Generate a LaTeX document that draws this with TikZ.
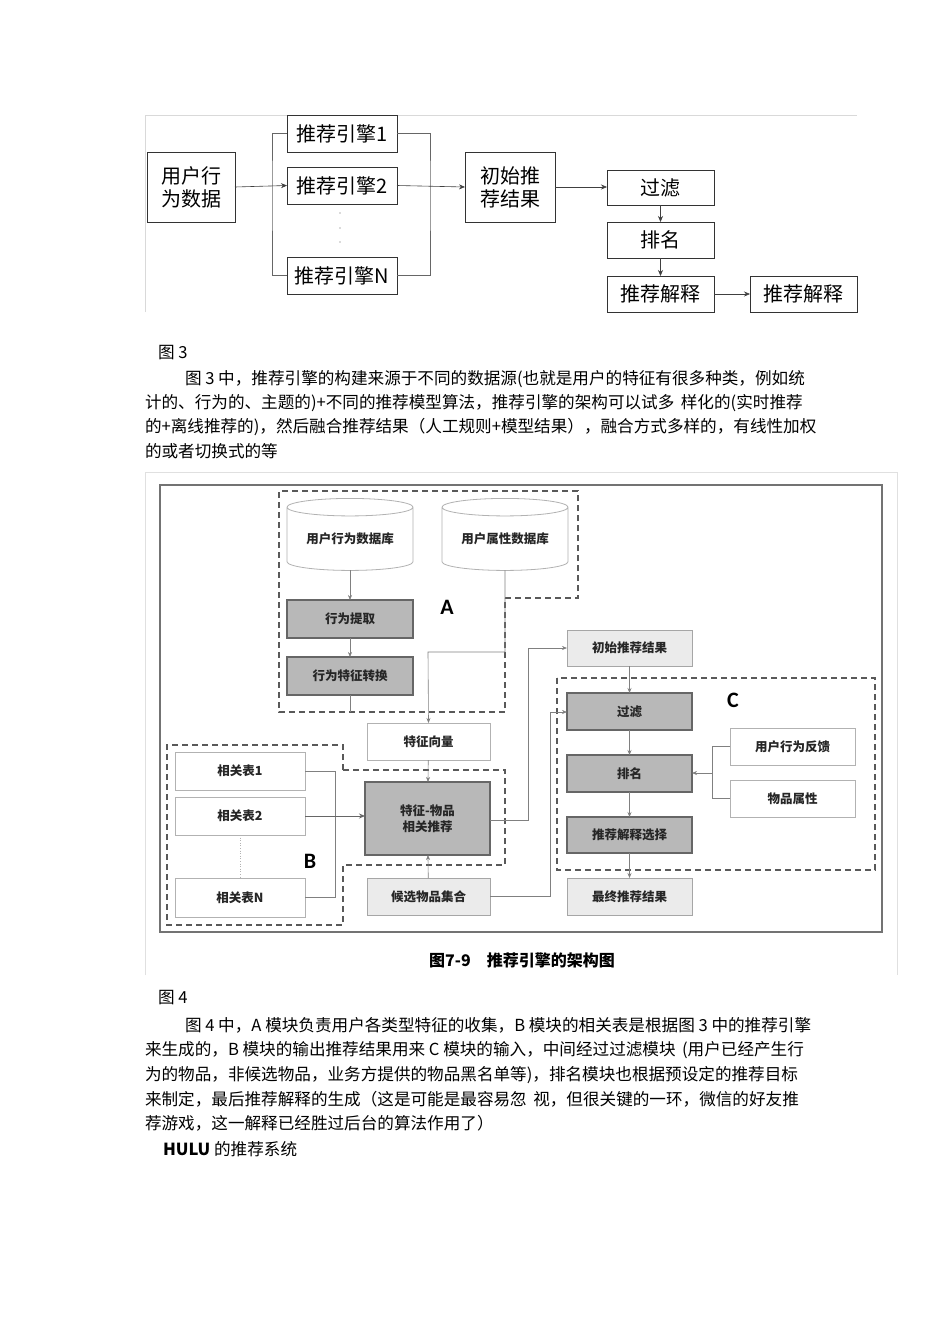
\documentclass[tikz,border=0pt]{standalone}
\usepackage{fontspec}
\setmainfont{Noto Sans CJK SC}
\newfontfamily\latinf{Carlito}
\usetikzlibrary{shapes.geometric,arrows.meta}
\newcommand\bx[7]{\node[#6,minimum width=#4-#2,minimum height=#5-#3] (#1) at ({(#2+#4)/2},{(#3+#5)/2}) {#7};}
\begin{document}
\begin{tikzpicture}[x=1pt,y=-1pt,inner sep=0,outer sep=0,
  tbox/.style={draw=black!80,line width=0.8pt,fill=white,font=\fontsize{20}{23}\selectfont,align=center},
  fa/.style={-{Stealth[length=6pt,width=5pt]},line width=0.6pt,black!75},
  fl/.style={line width=0.6pt,black!60},
  dk/.style={draw=black!60,line width=1.2pt,fill=black!28,font=\fontsize{12.5}{16}\selectfont\bfseries,align=center,text=black!85},
  lt/.style={draw=black!35,line width=0.8pt,fill=black!8,font=\fontsize{12.5}{16}\selectfont\bfseries,align=center,text=black!85},
  wh/.style={draw=black!30,line width=0.7pt,fill=white,font=\fontsize{12.5}{16}\selectfont\bfseries,align=center,text=black!85},
  ga/.style={-{Stealth[length=5pt,width=4pt]},line width=0.6pt,black!50},
  gl/.style={line width=0.6pt,black!50},
  dsh/.style={dashed,dash pattern=on 6pt off 4pt,line width=1.4pt,black!65},
  para/.style={anchor=west,font=\fontsize{16.6}{19}\selectfont}]
\useasboundingbox (0,0) rectangle (950,1344);
\fill[white] (0,0) rectangle (950,1344);
% ---------- Figure 3 ----------
\draw[black!15,line width=0.6pt] (145,312) -- (145,115) -- (857,115);
\bx{ud}{147}{152}{235}{222}{tbox}{用户行\\为数据}
\bx{e1}{287}{115}{397}{152}{tbox}{推荐引擎1}
\bx{e2}{287}{167}{397}{204}{tbox}{推荐引擎2}
\bx{en}{287}{257}{397}{294}{tbox}{推荐引擎N}
\bx{init}{465}{152}{555}{222}{tbox}{初始推\\荐结果}
\bx{flt}{607}{170}{714}{205}{tbox}{过滤}
\bx{rk}{607}{222}{714}{258}{tbox}{排名}
\bx{ex}{607}{276}{714}{312}{tbox}{推荐解释}
\bx{ex2}{750}{276}{857}{312}{tbox}{推荐解释}
\foreach \yy in {213,228,242} \fill[black!60] (340,\yy) circle (0.7);
\draw[fl] (e1.west) -| (272,187) |- (en.west);
\draw[fl] (e1.east) -| (430,187) |- (en.east);
\draw[fa] (ud.east) -- (e2.west);
\draw[fa] (e2.east) -- (init.west);
\draw[fa] (init.east) -- (init.east -| flt.west);
\draw[fa] (flt) -- (rk);
\draw[fa] (rk) -- (ex);
\draw[fa] (ex) -- (ex2);
% ---------- text 1 ----------
\node[para] (t0) at (158,353) {图 3};
\node[para] (t1) at (185,379) {图 3 中，推荐引擎的构建来源于不同的数据源(也就是用户的特征有很多种类，例如统};
\node[para] (t2) at (145,403) {计的、行为的、主题的)+不同的推荐模型算法，推荐引擎的架构可以试多 \,样化的(实时推荐};
\node[para] (t3) at (145,427) {的+离线推荐的)，然后融合推荐结果（人工规则+模型结果），融合方式多样的，有线性加权};
\node[para] (t4) at (145,451) {的或者切换式的等};
% ---------- Figure 4 ----------
\draw[black!12,line width=0.6pt] (145,975) -- (145,472) -- (897,472) -- (897,975);
\draw[black!55,line width=1.5pt] (160,485) rectangle (882,932);
\draw[dsh] (505,598) -- (578,598) -- (578,491) -- (279,491) -- (279,712) -- (505,712) -- cycle;
\draw[dsh] (343,770) -- (343,745) -- (167,745) -- (167,925) -- (343,925) -- (343,865) -- (505,865) -- (505,770) -- cycle;
\draw[dsh] (557,678) rectangle (875,870);
\node[cylinder,shape border rotate=90,aspect=0.2,draw=black!30,line width=0.8pt,minimum width=126,minimum height=72,font=\fontsize{12.5}{16}\selectfont\bfseries,text=black!85] (db1) at (350,539) {用户行为数据库};
\node[cylinder,shape border rotate=90,aspect=0.2,draw=black!30,line width=0.8pt,minimum width=126,minimum height=72,font=\fontsize{12.5}{16}\selectfont\bfseries,text=black!85] (db2) at (505,539) {用户属性数据库};
\bx{xt}{287}{600}{413}{638}{dk}{行为提取}
\bx{xz}{287}{657}{413}{695}{dk}{行为特征转换}
\bx{fv}{367}{723}{490}{760}{wh}{特征向量}
\bx{fi}{365}{782}{490}{855}{dk}{特征-物品\\相关推荐}
\bx{cs}{367}{878}{490}{915}{lt}{候选物品集合}
\bx{r1}{175}{752}{305}{790}{wh}{相关表1}
\bx{r2}{175}{797}{305}{835}{wh}{相关表2}
\bx{rn}{175}{878}{305}{917}{wh}{相关表N}
\bx{ci}{567}{630}{692}{666}{lt}{初始推荐结果}
\bx{cf}{567}{693}{692}{730}{dk}{过滤}
\bx{cr}{567}{755}{692}{792}{dk}{排名}
\bx{ce}{567}{817}{692}{853}{dk}{推荐解释选择}
\bx{cz}{567}{878}{692}{915}{lt}{最终推荐结果}
\bx{ub}{730}{728}{855}{765}{wh}{用户行为反馈}
\bx{ip}{730}{780}{855}{817}{wh}{物品属性}
\node[font=\fontsize{22}{24}\selectfont\bfseries\latinf] (la) at (447,607) {A};
\node[font=\fontsize{22}{24}\selectfont\bfseries\latinf] (lb) at (310,861) {B};
\node[font=\fontsize{22}{24}\selectfont\bfseries\latinf] (lc) at (733,700) {C};
\draw[black!30,dotted,line width=0.6pt] (r2.south) -- (rn.north);
\draw[ga] (db1.south) -- (xt.north);
\draw[ga] (xt) -- (xz);
\draw[gl] (xz.south) -- (350,712);
\draw[ga] (db2.south) |- (428,652) -- (fv.north);
\draw[ga] (fv) -- (fi);
\draw[ga] (cs) -- (fi);
\draw[gl] (r1.east) -| (335,815);
\draw[gl] (rn.east) -| (335,815);
\draw[-{Stealth[length=6pt,width=5pt]},line width=1pt,black!60] (r2.east) -- (fi.west |- r2.east);
\draw[ga] (fi.east |- 0,820) -| (528,648) -- (ci.west |- 0,648);
\draw[ga] (cs.east) -| (550,712) -- (cf.west |- 0,712);
\draw[ga] (ci) -- (cf);
\draw[ga] (cf) -- (cr);
\draw[ga] (cr) -- (ce);
\draw[ga] (ce) -- (cz);
\draw[gl] (ub.west) -| (712,773);
\draw[gl] (ip.west) -| (712,773);
\draw[ga] (712,773) -- (cr.east |- 0,773);
\node[font=\fontsize{16}{18}\selectfont\bfseries] (cap) at (522,960) {图7-9\quad 推荐引擎的架构图};
% ---------- text 2 ----------
\node[para] (u0) at (158,998) {图 4};
\node[para] (u1) at (185,1025) {图 4 中，A 模块负责用户各类型特征的收集，B 模块的相关表是根据图 3 中的推荐引擎};
\node[para] (u2) at (145,1050) {来生成的，B 模块的输出推荐结果用来 C 模块的输入，中间经过过滤模块 \,(用户已经产生行};
\node[para] (u3) at (145,1075) {为的物品，非候选物品，业务方提供的物品黑名单等)，排名模块也根据预设定的推荐目标};
\node[para] (u4) at (145,1099) {来制定，最后推荐解释的生成（这是可能是最容易忽 \,视，但很关键的一环，微信的好友推};
\node[para] (u5) at (145,1123) {荐游戏，这一解释已经胜过后台的算法作用了）};
\node[para] (u6) at (163,1149) {\textbf{HULU} 的推荐系统};
\end{tikzpicture}
\end{document}
